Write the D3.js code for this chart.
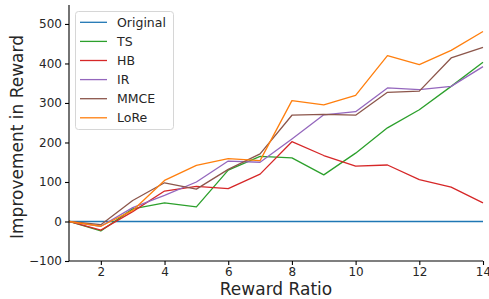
<!DOCTYPE html>
<html><head><meta charset="utf-8">
<script src="https://cdn.jsdelivr.net/npm/d3@7"></script>
<style>body{margin:0;background:#fff}svg{display:block}text{font-family:"DejaVu Sans",sans-serif;fill:#262626}</style>
</head><body><svg id="c" width="489" height="299"></svg>
<script>
const ratios = [1,2,3,4,5,6,7,8,9,10,11,12,13,14];
const original = [0,0,0,0,0,0,0,0,0,0,0,0,0,0];
const ts   = [0,-24,32,47,37,130,165,161,118,173,237,283,342,403];
const hb   = [0,-22,25,77,89,83,120,202,167,140,143,106,87,47];
const ir   = [0,-12,35,66,100,153,150,209,270,278,338,334,342,392];
const mmce = [0,-8,53,98,82,132,171,269,271,269,327,330,414,441];
const lore = [0,-12,28,104,142,159,154,306,295,319,420,397,433,481];
const seriesNames = ["Original","TS","HB","IR","MMCE","LoRe"];
const seriesValues = [original, ts, hb, ir, mmce, lore];
const colors = ["#1f77b4","#2ca02c","#d62728","#9467bd","#8c564b","#ff7f0e"];
const xTicks = [2,4,6,8,10,12,14];
const yTicks = [-100,0,100,200,300,400,500];

const svg = d3.select("#c");
const m = {l:69, r:483, t:5, b:261};
const x = d3.scaleLinear().domain([1,14]).range([m.l, m.r]);
const y = d3.scaleLinear().domain([-100,548]).range([m.b, m.t]);

const line = d3.line().x((d,i)=>x(ratios[i])).y(d=>y(d));
seriesValues.forEach((vals,k)=>{
  svg.append("path").attr("d", line(vals)).attr("fill","none")
    .attr("stroke", colors[k]).attr("stroke-width",1.3).attr("stroke-linejoin","round");
});

const fmt = d => d < 0 ? "\u2212" + Math.abs(d) : String(d);
const xa = svg.append("g").attr("transform",`translate(0,${m.b})`)
  .call(d3.axisBottom(x).tickValues(xTicks).tickSize(4).tickPadding(2.5).tickFormat(fmt));
const ya = svg.append("g").attr("transform",`translate(${m.l},0)`)
  .call(d3.axisLeft(y).tickValues(yTicks).tickSize(4).tickPadding(3).tickFormat(fmt));
[xa,ya].forEach(a=>{
  a.selectAll("path").attr("stroke","#000").attr("stroke-width",1.1);
  a.selectAll("line").attr("stroke","#000").attr("stroke-width",1.1);
  a.selectAll("text").attr("font-size",12).attr("fill","#262626").style("font-family","DejaVu Sans");
});
ya.select("path.domain").attr("d",`M0,${m.t}V${m.b}`);
xa.select("path.domain").attr("d",`M${m.l},0H${m.r}`);

svg.append("text").attr("x",(m.l+m.r)/2).attr("y",294.5).attr("text-anchor","middle")
  .attr("font-size",17).text("Reward Ratio");
svg.append("text").attr("transform",`translate(22.5,137) rotate(-90)`).attr("text-anchor","middle")
  .attr("font-size",17).text("Improvement in Reward");

const lg = svg.append("g");
lg.append("rect").attr("x",75.5).attr("y",11.5).attr("width",98).attr("height",118).attr("rx",3)
  .attr("fill","#fff").attr("fill-opacity",0.8).attr("stroke","#d6d6d6").attr("stroke-width",1);
seriesNames.forEach((n,k)=>{
  const yy = 22.3 + k*19.1;
  lg.append("line").attr("x1",80).attr("x2",107).attr("y1",yy).attr("y2",yy)
    .attr("stroke",colors[k]).attr("stroke-width",1.3);
  lg.append("text").attr("x",117).attr("y",yy+4.5).attr("font-size",12.5).text(n);
});
</script></body></html>
